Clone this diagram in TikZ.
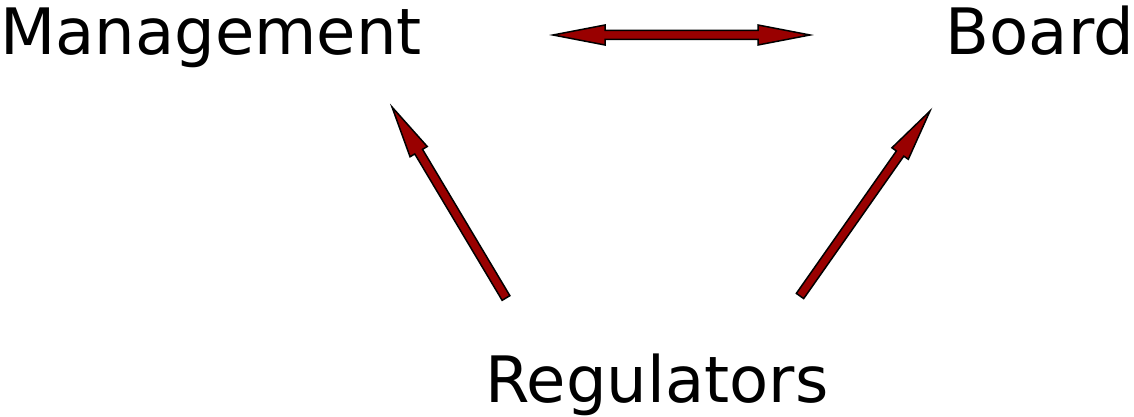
\documentclass[tikz,border=0pt]{standalone}
\usepackage{fontspec}
\setmainfont{DejaVu Sans}
\usepackage{xcolor}
\usepackage{tikz}
\usetikzlibrary{calc,positioning}

\definecolor{arrowred}{HTML}{990000}

\tikzset{
  party/.style={inner sep=0pt,font=\fontsize{64}{72}\selectfont},
  blockfill/.style={fill=arrowred,draw=black,line width=1.5pt,line join=miter},
}

\newcommand{\shaftw}{4.5pt}
\newcommand{\headw}{10pt}
\newcommand{\headlen}{52pt}

% block arrow from #1 to #2
\newcommand{\blockarrow}[2]{%
  \coordinate (hb) at ($(#2)!\headlen!(#1)$);
  \filldraw[blockfill] ($(#1)!\shaftw!90:(#2)$) -- ($(hb)!\shaftw!-90:(#1)$)
    -- ($(hb)!\headw!-90:(#1)$) -- (#2) -- ($(hb)!\headw!90:(#1)$)
    -- ($(hb)!\shaftw!90:(#1)$) -- ($(#1)!\shaftw!-90:(#2)$) -- cycle;}

% block arrow with heads at both ends
\newcommand{\blockarrowboth}[2]{%
  \coordinate (hb) at ($(#2)!\headlen!(#1)$);
  \coordinate (ha) at ($(#1)!\headlen!(#2)$);
  \filldraw[blockfill] (#1) -- ($(ha)!\headw!90:(#2)$) -- ($(ha)!\shaftw!90:(#2)$)
    -- ($(hb)!\shaftw!-90:(#1)$) -- ($(hb)!\headw!-90:(#1)$) -- (#2)
    -- ($(hb)!\headw!90:(#1)$) -- ($(hb)!\shaftw!90:(#1)$)
    -- ($(ha)!\shaftw!-90:(#2)$) -- ($(ha)!\headw!-90:(#2)$) -- cycle;}

\begin{document}
\begin{tikzpicture}[x=1pt,y=1pt]
  \useasboundingbox (0,0) rectangle (1134,417);

  \node[party,anchor=base west] (mgmt) at (0,362) {Management};
  \node[party,anchor=base east] (board) at (1134,362) {Board};
  \node[party,anchor=base west] (reg) at (485,14) {Regulators};

  % arrow ends
  \coordinate (mb-l) at (553,382);
  \coordinate (mb-r) at (810,382);
  \coordinate (rm-s) at (506,119);
  \coordinate (rm-t) at (392,310);
  \coordinate (rb-s) at (800,121);
  \coordinate (rb-t) at (930,306);

  \blockarrowboth{mb-l}{mb-r}
  \blockarrow{rm-s}{rm-t}
  \blockarrow{rb-s}{rb-t}
\end{tikzpicture}
\end{document}
